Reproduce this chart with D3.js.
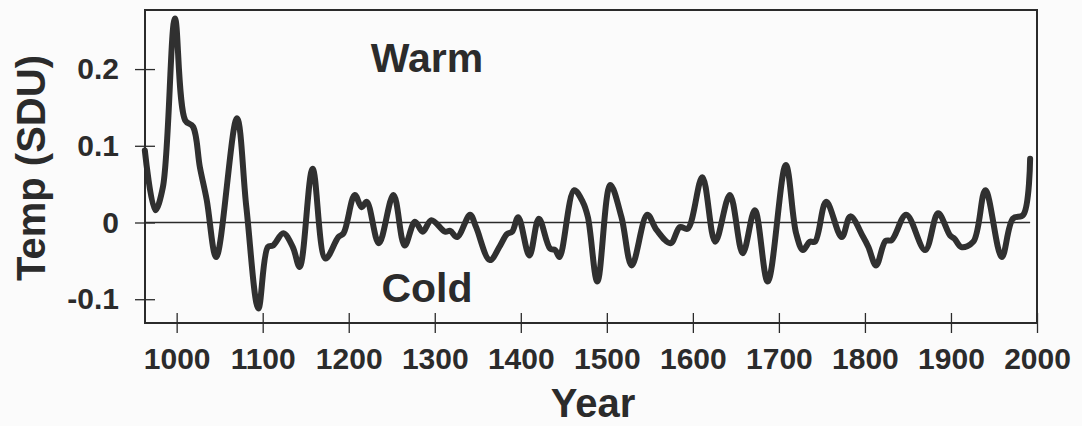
<!DOCTYPE html>
<html>
<head>
<meta charset="utf-8">
<script src="https://cdn.jsdelivr.net/npm/d3@7"></script>
<style>
  body { margin: 0; background: #fbfbfb; }
  svg { display: block; }
</style>
</head>
<body>
<div id="chart"></div>
<script>
// reconstruction values
var years = [963, 975, 984, 998, 1010, 1019, 1027, 1035, 1046, 1070, 1081, 1095, 1106, 1112, 1124, 1135, 1143,
  1158, 1173, 1188, 1194, 1207, 1215, 1221, 1235, 1252, 1265, 1277, 1286, 1296, 1312, 1318, 1326, 1341, 1348,
  1364, 1376, 1384, 1390, 1397, 1410, 1421, 1434, 1440, 1445, 1462, 1472, 1478, 1489, 1504, 1517, 1529, 1547,
  1558, 1574, 1585, 1594, 1611, 1626, 1643, 1658, 1672, 1687, 1708, 1720, 1728, 1736, 1742, 1755, 1773, 1783,
  1798, 1804, 1813, 1824, 1831, 1848, 1870, 1885, 1899, 1904, 1912, 1926, 1940, 1959, 1972, 1984, 1992];
var temps = [0.094, 0.016, 0.046, 0.266, 0.133, 0.125, 0.072, 0.029, -0.045, 0.136, 0.02, -0.112, -0.032, -0.030,
  -0.014, -0.032, -0.058, 0.070, -0.047, -0.019, -0.014, 0.036, 0.020, 0.027, -0.027, 0.036, -0.030, 0.001,
  -0.012, 0.003, -0.012, -0.011, -0.019, 0.010, -0.006, -0.049, -0.030, -0.015, -0.012, 0.007, -0.043, 0.005,
  -0.034, -0.036, -0.045, 0.042, 0.027, 0.007, -0.077, 0.049, 0.007, -0.056, 0.010, -0.010, -0.027, -0.006,
  -0.008, 0.059, -0.025, 0.036, -0.040, 0.016, -0.077, 0.075, -0.014, -0.036, -0.025, -0.025, 0.027, -0.019,
  0.008, -0.019, -0.032, -0.056, -0.024, -0.023, 0.010, -0.036, 0.012, -0.017, -0.021, -0.032, -0.025, 0.042,
  -0.045, 0.005, 0.010, 0.083];
var xTicks = [1000, 1100, 1200, 1300, 1400, 1500, 1600, 1700, 1800, 1900, 2000];
var yTicks = [-0.1, 0, 0.1, 0.2];
var yTickLabels = ["-0.1", "0", "0.1", "0.2"];

var W = 1082, H = 426;
var margin = {left: 145, top: 10, right: 45, bottom: 103};
var width = W - margin.left - margin.right;
var height = H - margin.top - margin.bottom;
var ink = "#2b2b2b";
var font = "'Liberation Sans', Arial, Helvetica, sans-serif";

var svg = d3.select("#chart").append("svg")
  .attr("width", W)
  .attr("height", H);

var g = svg.append("g")
  .attr("transform", "translate(" + margin.left + "," + margin.top + ")");

var x = d3.scaleLinear().domain([963.2, 2000]).range([0, width]);
var y = d3.scaleLinear().domain([-0.131, 0.277]).range([height, 0]);

var data = years.map(function(yr, i) { return {year: yr, temp: temps[i]}; });

//zero line
g.append("line")
  .attr("x1", 0)
  .attr("x2", x(1992))
  .attr("y1", y(0))
  .attr("y2", y(0))
  .style("stroke", ink)
  .style("stroke-width", 1.6);

//the curve
var line = d3.line()
  .x(function(d) { return x(d.year); })
  .y(function(d) { return y(d.temp); })
  .curve(d3.curveCatmullRom.alpha(0.5));

g.append("path")
  .datum(data)
  .attr("d", line)
  .style("fill", "none")
  .style("stroke", "#303030")
  .style("stroke-width", 6)
  .style("stroke-linejoin", "round")
  .style("stroke-linecap", "round");

//frame
g.append("rect")
  .attr("width", width)
  .attr("height", height)
  .style("fill", "none")
  .style("stroke", ink)
  .style("stroke-width", 2);

//axes, ticks cross the frame
var xAxis = g.append("g")
  .attr("transform", "translate(0," + (height - 10) + ")")
  .call(d3.axisBottom(x).tickValues(xTicks).tickSize(20).tickPadding(15).tickFormat(d3.format("d")));

var yAxis = g.append("g")
  .attr("transform", "translate(10,0)")
  .call(d3.axisLeft(y).tickValues(yTicks).tickSize(20).tickPadding(16)
    .tickFormat(function(d, i) { return yTickLabels[i]; }));

[xAxis, yAxis].forEach(function(a) {
  a.select(".domain").remove();
  a.selectAll(".tick line").style("stroke", ink).style("stroke-width", 1.3);
  a.selectAll(".tick text")
    .style("font-family", font)
    .style("font-weight", "bold")
    .style("font-size", "30px")
    .style("fill", ink);
});

//labels
svg.append("text")
  .attr("x", 427)
  .attr("y", 72)
  .attr("text-anchor", "middle")
  .style("font-family", font)
  .style("font-weight", "bold")
  .style("font-size", "41px")
  .style("fill", ink)
  .text("Warm");

svg.append("text")
  .attr("x", 427)
  .attr("y", 302)
  .attr("text-anchor", "middle")
  .style("font-family", font)
  .style("font-weight", "bold")
  .style("font-size", "41px")
  .style("fill", ink)
  .text("Cold");

svg.append("text")
  .attr("x", 593)
  .attr("y", 417)
  .attr("text-anchor", "middle")
  .style("font-family", font)
  .style("font-weight", "bold")
  .style("font-size", "40px")
  .style("fill", ink)
  .text("Year");

svg.append("text")
  .attr("transform", "translate(45,168) rotate(-90)")
  .attr("text-anchor", "middle")
  .style("font-family", font)
  .style("font-weight", "bold")
  .style("font-size", "40px")
  .style("fill", ink)
  .text("Temp (SDU)");
</script>
</body>
</html>
